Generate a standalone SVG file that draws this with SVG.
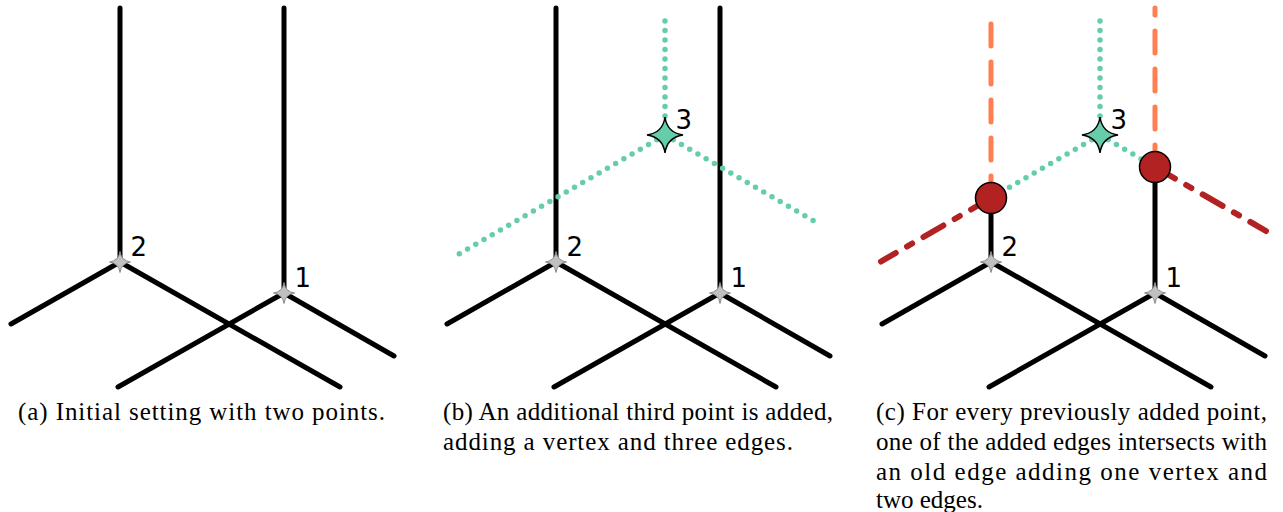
<svg xmlns="http://www.w3.org/2000/svg" xmlns:xlink="http://www.w3.org/1999/xlink" width="1283" height="512" viewBox="0 0 1283 512">
<style>
.edge{stroke:#000;stroke-width:5;stroke-linecap:round;fill:none}
.dot{stroke:#66CDAA;stroke-width:5.5;stroke-linecap:round;stroke-dasharray:0 9.5;fill:none}
.orange{stroke:#FF7F50;stroke-width:5;stroke-linecap:round;stroke-dasharray:22 16;fill:none}
.red{stroke:#B22222;stroke-width:6;stroke-linecap:round;stroke-dasharray:23 13 6 13;fill:none}
.gstar{fill:#C0C0C0;stroke:#8c8c8c;stroke-width:1}
.tstar{fill:#66CDAA;stroke:#000;stroke-width:1.5}
.vtx{fill:#B22222;stroke:#000;stroke-width:1.5}
.lbl{font-family:"DejaVu Sans",sans-serif;font-size:26px;fill:#000}
.cap{font-family:"Liberation Serif",serif;font-size:25px;fill:#000}
</style>
<defs>
<path id="star-s" d="M0,-10.5 Q1.3,-1.3 10.5,0 Q1.3,1.3 0,10.5 Q-1.3,1.3 -10.5,0 Q-1.3,-1.3 0,-10.5Z"/>
<path id="star-l" d="M0,-18 Q2.2,-2.2 18,0 Q2.2,2.2 0,18 Q-2.2,2.2 -18,0 Q-2.2,-2.2 0,-18Z"/>
</defs>

<!-- Panel (a) -->
<g id="connectors-a">
<line class="edge" x1="120" y1="8" x2="120" y2="262"/>
<line class="edge" x1="284" y1="8" x2="284" y2="293"/>
<line class="edge" x1="120" y1="262" x2="11" y2="324"/>
<line class="edge" x1="120" y1="262" x2="340" y2="387"/>
<line class="edge" x1="284" y1="293" x2="118" y2="387"/>
<line class="edge" x1="284" y1="293" x2="394" y2="356"/>
</g>
<g id="a-point-2"><use href="#star-s" class="gstar" x="120" y="262"/><text class="lbl" x="130.5" y="255.5">2</text></g>
<g id="a-point-1"><use href="#star-s" class="gstar" x="284" y="293"/><text class="lbl" x="294.5" y="286.5">1</text></g>

<!-- Panel (b) -->
<g id="connectors-b">
<line class="edge" x1="556" y1="8" x2="556" y2="262"/>
<line class="edge" x1="720" y1="8" x2="720" y2="293"/>
<line class="edge" x1="556" y1="262" x2="447" y2="324"/>
<line class="edge" x1="556" y1="262" x2="776" y2="387"/>
<line class="edge" x1="720" y1="293" x2="554" y2="387"/>
<line class="edge" x1="720" y1="293" x2="830" y2="356"/>
<line class="dot" x1="665" y1="135" x2="665" y2="11.5"/>
<line class="dot" x1="665" y1="135" x2="451.1" y2="258.5"/>
<line class="dot" x1="665" y1="135" x2="821.3" y2="225.25"/>
</g>
<g id="b-point-2"><use href="#star-s" class="gstar" x="556" y="262"/><text class="lbl" x="566.5" y="255.5">2</text></g>
<g id="b-point-1"><use href="#star-s" class="gstar" x="720" y="293"/><text class="lbl" x="730.5" y="286.5">1</text></g>
<g id="b-point-3"><use href="#star-l" class="tstar" x="665" y="135"/><text class="lbl" x="675.5" y="128.5">3</text></g>

<!-- Panel (c) -->
<g id="connectors-c">
<line class="edge" x1="991" y1="198" x2="991" y2="262"/>
<line class="edge" x1="1155" y1="167" x2="1155" y2="293"/>
<line class="edge" x1="991" y1="262" x2="882" y2="324"/>
<line class="edge" x1="991" y1="262" x2="1211" y2="387"/>
<line class="edge" x1="1155" y1="293" x2="989" y2="387"/>
<line class="edge" x1="1155" y1="293" x2="1265" y2="356"/>
<line class="orange" x1="991" y1="198" x2="991" y2="8"/>
<line class="orange" x1="1155" y1="167" x2="1155" y2="8"/>
<line class="red" x1="991" y1="198" x2="881" y2="261.5"/>
<line class="red" x1="1155" y1="167" x2="1266" y2="231"/>
<line class="dot" x1="1100" y1="135" x2="1100" y2="11.5"/>
<line class="dot" x1="1100" y1="135" x2="991" y2="198"/>
<line class="dot" x1="1100" y1="135" x2="1155" y2="167"/>
</g>
<g id="c-vertex-left"><circle class="vtx" cx="991" cy="198" r="15.5"/></g>
<g id="c-vertex-right"><circle class="vtx" cx="1155" cy="167" r="15.5"/></g>
<g id="c-point-2"><use href="#star-s" class="gstar" x="991" y="262"/><text class="lbl" x="1001.5" y="255.5">2</text></g>
<g id="c-point-1"><use href="#star-s" class="gstar" x="1155" y="293"/><text class="lbl" x="1165.5" y="286.5">1</text></g>
<g id="c-point-3"><use href="#star-l" class="tstar" x="1100" y="135"/><text class="lbl" x="1110.5" y="128.5">3</text></g>

<!-- Captions -->
<g id="captions">
<text class="cap" x="18" y="420" textLength="367">(a) Initial setting with two points.</text>
<text class="cap" x="443" y="420" textLength="390">(b) An additional third point is added,</text>
<text class="cap" x="443" y="450" textLength="350">adding a vertex and three edges.</text>
<text class="cap" x="876" y="420" textLength="391">(c) For every previously added point,</text>
<text class="cap" x="876" y="450" textLength="391">one of the added edges intersects with</text>
<text class="cap" x="876" y="480" textLength="391">an old edge adding one vertex and</text>
<text class="cap" x="876" y="508">two edges.</text>
</g>
</svg>
